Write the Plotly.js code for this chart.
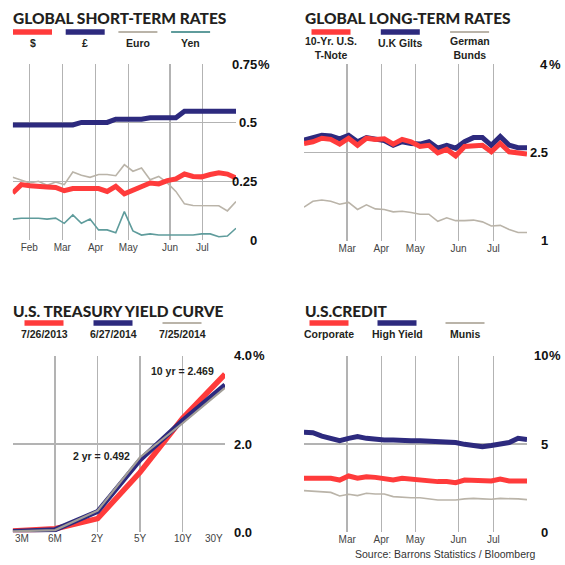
<!DOCTYPE html>
<html>
<head>
<meta charset="utf-8">
<script src="https://cdn.plot.ly/plotly-3.0.1.min.js"></script>
<style>
html,body{margin:0;padding:0;background:#fff;}
#chart{width:565px;height:565px;}
</style>
</head>
<body>
<div id="chart"></div>
<script>
// ---------- DATA ----------
// Panel 1: Global short-term rates (weekly)
const shortMonths = ['Feb','Mar','Apr','May','Jun','Jul'];
const shortMonthPos = [1.93, 5.78, 9.66, 13.46, 18.32, 22.08];
const usdRate  = [0.200,0.236,0.231,0.231,0.226,0.224,0.210,0.219,0.219,0.219,0.219,0.207,0.229,0.197,0.214,0.229,0.243,0.239,0.253,0.260,0.281,0.271,0.269,0.279,0.286,0.281,0.264];
const gbpRate  = [0.490,0.490,0.490,0.490,0.490,0.490,0.490,0.490,0.501,0.501,0.501,0.501,0.515,0.515,0.515,0.515,0.521,0.521,0.521,0.521,0.549,0.549,0.549,0.549,0.549,0.549,0.549];
const euroRate = [0.267,0.254,0.243,0.250,0.233,0.247,0.236,0.290,0.276,0.267,0.279,0.279,0.274,0.321,0.293,0.307,0.257,0.271,0.243,0.207,0.154,0.147,0.146,0.144,0.146,0.124,0.164];
const yenRate  = [0.089,0.093,0.093,0.093,0.089,0.093,0.071,0.107,0.071,0.089,0.043,0.043,0.031,0.121,0.039,0.021,0.026,0.021,0.021,0.021,0.024,0.021,0.026,0.026,0.014,0.017,0.050];
const shortTicks = [0, 0.25, 0.5, 0.75];
const shortTickText = ['0', '0.25', '0.5', '0.75'];

// Panel 2: Global long-term rates
const longMonths = ['Mar','Apr','May','Jun','Jul'];
const longMonthPos = [4.84, 8.66, 12.48, 17.32, 21.22];
const usTNote = [2.65,2.68,2.74,2.72,2.64,2.74,2.62,2.74,2.72,2.73,2.64,2.72,2.68,2.60,2.62,2.49,2.55,2.44,2.60,2.62,2.62,2.51,2.65,2.51,2.48,2.47];
const ukGilts = [2.71,2.74,2.79,2.78,2.73,2.79,2.68,2.75,2.73,2.70,2.62,2.68,2.65,2.64,2.68,2.57,2.62,2.57,2.68,2.75,2.75,2.62,2.77,2.62,2.58,2.58];
const bunds   = [1.57,1.67,1.69,1.67,1.62,1.65,1.53,1.61,1.54,1.53,1.49,1.50,1.48,1.45,1.45,1.33,1.39,1.34,1.34,1.35,1.32,1.25,1.26,1.19,1.14,1.14];
const longTicks = [1, 2.5, 4];
const longTickText = ['1', '2.5', '4'];

// Panel 3: U.S. Treasury yield curve
const tenors = ['3M','6M','2Y','5Y','10Y','30Y'];
const curve20130726 = [0.03,0.08,0.31,1.36,2.58,3.58];
const curve20140627 = [0.02,0.06,0.47,1.64,2.53,3.34];
const curve20140725 = [0.02,0.05,0.49,1.70,2.47,3.27];
const curveTicks = [0, 2, 4];
const curveTickText = ['0.0', '2.0', '4.0'];
const curveNotes = [{tenor:4, y:3.65, text:'10 yr = 2.469'}, {tenor:2.08, y:1.73, text:'2 yr = 0.492'}];

// Panel 4: U.S. credit
const creditMonths = ['Mar','Apr','May','Jun','Jul'];
const creditMonthPos = [4.84, 8.66, 12.48, 17.32, 21.22];
const corporate = [3.06,3.06,3.06,3.06,2.96,3.19,3.06,3.15,3.11,3.06,2.96,3.06,3.00,2.96,2.91,2.87,2.87,2.81,2.96,2.96,2.96,2.91,3.02,2.91,2.91,2.91];
const highYield = [5.66,5.64,5.45,5.32,5.19,5.32,5.42,5.32,5.26,5.23,5.23,5.19,5.19,5.19,5.17,5.17,5.13,5.08,4.98,4.94,4.85,4.91,5.00,5.08,5.32,5.26];
const munis     = [2.36,2.34,2.30,2.26,2.06,2.15,2.08,2.21,2.17,2.17,2.02,1.98,1.96,1.96,1.89,1.83,1.83,1.83,1.89,1.92,1.89,1.87,1.92,1.92,1.89,1.85];
const creditTicks = [0, 5, 10];
const creditTickText = ['0', '5', '10'];

// ---------- STYLE ----------
const W = 565, H = 565;
const RED = '#ff3b3b', NAVY = '#2d2a7e', WARM = '#bab4a9', TEAL = '#5f9c9c', CURVEGRAY = '#a29e97';
const GRID = '#b3b3b3';
const TITLE_FONT = {family:'Lato, "Liberation Sans", Arial, sans-serif', size:15.5, color:'#231f20', weight:900};
const LEG_FONT = {family:'"Liberation Sans", Arial, sans-serif', size:10.5, color:'#231f20', weight:700};
const TICK_FONT = {family:'"Liberation Sans", Arial, sans-serif', size:13, color:'#111', weight:700};
const MONTH_FONT = {family:'"Liberation Sans", Arial, sans-serif', size:10, color:'#444'};
const px = v => v / W;
const py = v => 1 - v / H;

function idx(arr){ return arr.map((_, i) => i); }

const traces = [];
function line(xa, ya, x, y, color, width){
  traces.push({type:'scatter', mode:'lines', xaxis:xa, yaxis:ya, x:x, y:y,
    line:{color:color, width:width}, hoverinfo:'skip'});
}
// panel 1
line('x','y', idx(euroRate), euroRate, WARM, 1.6);
line('x','y', idx(yenRate), yenRate, TEAL, 1.6);
line('x','y', idx(usdRate), usdRate, RED, 5);
line('x','y', idx(gbpRate), gbpRate, NAVY, 5);
// panel 2
line('x2','y2', idx(bunds), bunds, WARM, 1.6);
line('x2','y2', idx(ukGilts), ukGilts, NAVY, 5);
line('x2','y2', idx(usTNote), usTNote, RED, 5);
// panel 3
line('x3','y3', tenors, curve20130726, RED, 5.5);
line('x3','y3', tenors, curve20140627, NAVY, 5);
line('x3','y3', tenors, curve20140725, CURVEGRAY, 2.2);
// panel 4
line('x4','y4', idx(munis), munis, WARM, 1.6);
line('x4','y4', idx(highYield), highYield, NAVY, 5);
line('x4','y4', idx(corporate), corporate, RED, 5);

function xax(domL, domR, range, tickvals, ticktext){
  return {domain:[px(domL), px(domR)], range:range, tickvals:tickvals, ticktext:ticktext,
    showgrid:true, gridcolor:GRID, gridwidth:1.5, zeroline:false, showline:false, ticks:'',
    tickfont:MONTH_FONT, fixedrange:true};
}
function yax(top, bottom, range, tickvals, anchor){
  return {domain:[py(bottom), py(top)], range:range, tickvals:tickvals, showticklabels:false,
    showgrid:true, gridcolor:GRID, gridwidth:1.5, zeroline:false, showline:false, ticks:'',
    anchor:anchor, fixedrange:true};
}

const layout = {
  width:W, height:H, margin:{l:0,r:0,t:0,b:0}, paper_bgcolor:'#fff', plot_bgcolor:'#fff',
  showlegend:false,
  xaxis: xax(12.7, 236, [0, usdRate.length-1], shortMonthPos, shortMonths),
  yaxis: yax(64, 240, [0, 0.75], shortTicks, 'x'),
  xaxis2: Object.assign(xax(304, 527, [0, usTNote.length-1], longMonthPos, longMonths), {anchor:'y2'}),
  yaxis2: yax(64, 240.7, [1, 4], longTicks, 'x2'),
  xaxis3: Object.assign(xax(12.7, 225, [0, tenors.length-1], idx(tenors), tenors), {anchor:'y3', type:'category', showticklabels:false}),
  yaxis3: yax(355.7, 532.3, [0, 4], curveTicks, 'x3'),
  xaxis4: Object.assign(xax(304, 527, [0, corporate.length-1], creditMonthPos, creditMonths), {anchor:'y4'}),
  yaxis4: yax(355.7, 532.3, [0, 10], creditTicks, 'x4'),
  annotations: [], shapes: []
};
layout.xaxis.anchor = 'y';

const ann = layout.annotations, shp = layout.shapes;
function text(x, y, t, font, xanchor, extra){
  ann.push(Object.assign({xref:'paper', yref:'paper', x:px(x), y:py(y), text:t, showarrow:false,
    font:font, xanchor:xanchor||'left', yanchor:'middle'}, extra||{}));
}
// titles
text(11, 18, 'GLOBAL SHORT-TERM RATES', TITLE_FONT);
text(303, 18, 'GLOBAL LONG-TERM RATES', TITLE_FONT);
text(11, 310.5, 'U.S. TREASURY YIELD CURVE', TITLE_FONT);
text(303, 310.5, 'U.S.CREDIT', TITLE_FONT);

// legends
function legend(startX, step, y, entries){
  entries.forEach((e, i) => {
    const cx = startX + i * step;
    shp.push({type:'line', xref:'paper', yref:'paper', x0:px(cx-19.5), x1:px(cx+19.5), y0:py(y), y1:py(y),
      line:{color:e.color, width:e.w}});
    text(cx, y + 11 + (e.lines > 1 ? 5.5 : 0), e.name, LEG_FONT, 'center', {align:'center'});
  });
}
legend(32.5, 52.7, 32, [
  {name:'$', color:RED, w:5.5}, {name:'£', color:NAVY, w:5.5},
  {name:'Euro', color:WARM, w:2}, {name:'Yen', color:TEAL, w:2}]);
legend(331, 69.3, 32, [
  {name:'10-Yr. U.S.<br>T-Note', color:RED, w:5.5, lines:2}, {name:'U.K Gilts', color:NAVY, w:5.5},
  {name:'German<br>Bunds', color:WARM, w:2, lines:2}]);
legend(44, 69, 323, [
  {name:'7/26/2013', color:RED, w:5.5}, {name:'6/27/2014', color:NAVY, w:5.5},
  {name:'7/25/2014', color:WARM, w:2}]);
legend(329, 68, 323, [
  {name:'Corporate', color:RED, w:5.5}, {name:'High Yield', color:NAVY, w:5.5},
  {name:'Munis', color:WARM, w:2}]);

// y tick labels (right side)
function yLabels(yref, ticks, labels, rightX){
  ticks.forEach((t, i) => {
    ann.push({xref:'paper', yref:yref, x:px(rightX), y:t, text:labels[i], showarrow:false,
      font:TICK_FONT, xanchor:'right', yanchor:'middle', xshift:1});
    if (i === ticks.length - 1) {
      ann.push({xref:'paper', yref:yref, x:px(rightX), y:t, text:'%', showarrow:false,
        font:TICK_FONT, xanchor:'left', yanchor:'middle', xshift:-2});
    }
  });
}
yLabels('y', shortTicks, shortTickText, 258);
yLabels('y2', longTicks, longTickText, 549);
yLabels('y3', curveTicks, curveTickText, 253);
yLabels('y4', creditTicks, creditTickText, 549);

// yield curve x labels
tenors.forEach((t, i) => {
  ann.push({xref:'x3', yref:'paper', x:i, y:py(538.5), text:t, showarrow:false, font:MONTH_FONT,
    xanchor: i === 0 ? 'left' : (i === tenors.length-1 ? 'right' : 'center'), yanchor:'middle'});
});
// yield curve notes
curveNotes.forEach(n => {
  ann.push({xref:'x3', yref:'y3', x:n.tenor, y:n.y, text:n.text, showarrow:false,
    font:{family:'"Liberation Sans", Arial, sans-serif', size:10.5, color:'#231f20', weight:700},
    xanchor:'center', yanchor:'middle'});
});
// source
text(537, 554, 'Source: Barrons Statistics / Bloomberg',
  {family:'"Liberation Sans", Arial, sans-serif', size:10.5, color:'#333'}, 'right');

Plotly.newPlot('chart', traces, layout, {staticPlot:true, displayModeBar:false});
</script>
</body>
</html>
